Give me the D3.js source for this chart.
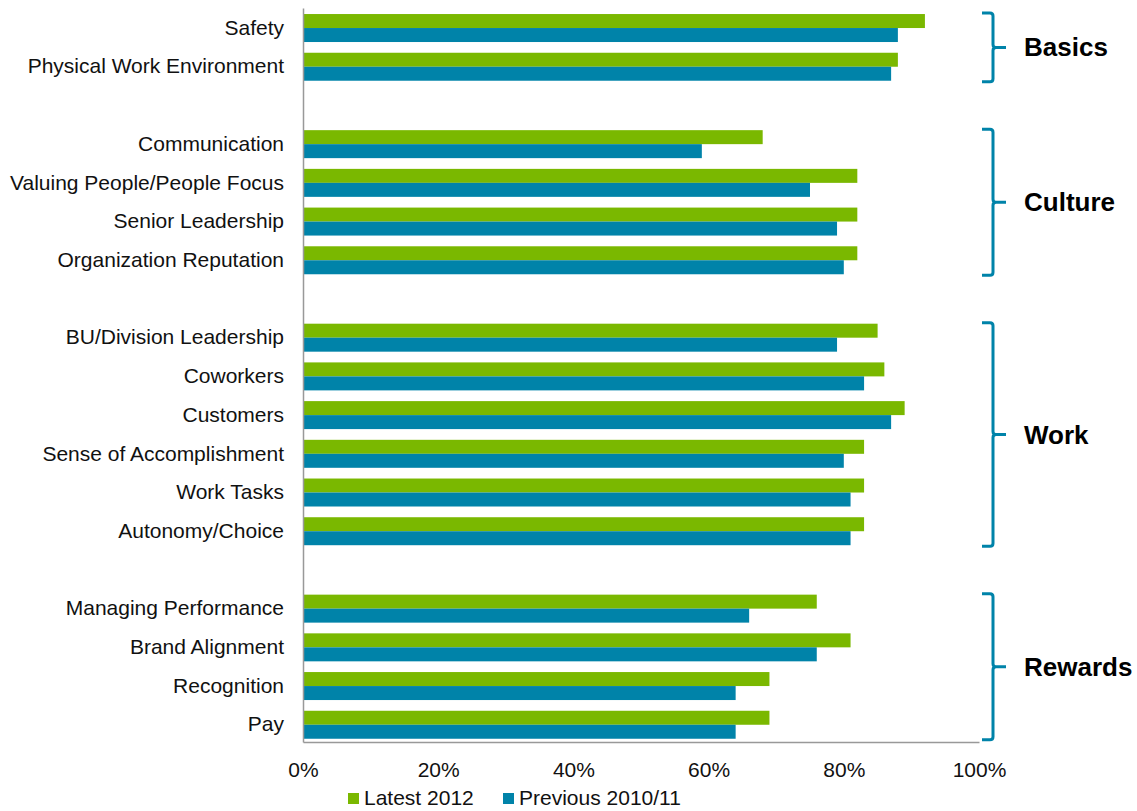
<!DOCTYPE html>
<html>
<head>
<meta charset="utf-8">
<script src="https://cdn.jsdelivr.net/npm/d3@7"></script>
<style>
  body { margin: 0; background: #fff; }
  text { font-family: "Liberation Sans", Arial, sans-serif; }
</style>
</head>
<body>
<script>
// Chart data (blank strings are the spacer rows between groups)
var categories = ["Safety", "Physical Work Environment", "",
  "Communication", "Valuing People/People Focus", "Senior Leadership", "Organization Reputation", "",
  "BU/Division Leadership", "Coworkers", "Customers", "Sense of Accomplishment", "Work Tasks", "Autonomy/Choice", "",
  "Managing Performance", "Brand Alignment", "Recognition", "Pay"];

var latest2012 = [0.92, 0.88, null,
  0.68, 0.82, 0.82, 0.82, null,
  0.85, 0.86, 0.89, 0.83, 0.83, 0.83, null,
  0.76, 0.81, 0.69, 0.69];

var previous2010 = [0.88, 0.87, null,
  0.59, 0.75, 0.79, 0.80, null,
  0.79, 0.83, 0.87, 0.80, 0.81, 0.81, null,
  0.66, 0.76, 0.64, 0.64];

var seriesNames = ["Latest 2012", "Previous 2010/11"];
var xTicks = [0, 0.2, 0.4, 0.6, 0.8, 1.0];

var groupNames = ["Basics", "Culture", "Work", "Rewards"];
var groupFirst = ["Safety", "Communication", "BU/Division Leadership", "Managing Performance"];
var groupLast = ["Physical Work Environment", "Organization Reputation", "Autonomy/Choice", "Pay"];

// Dimensions
var svgWidth = 1137;
var svgHeight = 811;
var margin = { top: 8, right: 158, bottom: 69, left: 303 };
var width = svgWidth - margin.left - margin.right;
var height = svgHeight - margin.top - margin.bottom;

var green = "#7ab800";
var blue = "#0083a9";

var svg = d3.select("body")
  .append("svg")
  .attr("width", svgWidth)
  .attr("height", svgHeight);

var chartGroup = svg.append("g")
  .attr("transform", `translate(${margin.left}, ${margin.top})`);

// Scales
var rows = d3.range(categories.length);

var yBand = d3.scaleBand()
  .domain(rows)
  .range([0, height])
  .paddingInner(0.277)
  .paddingOuter(0.12)
  .align(0.65);

var ySub = d3.scaleBand()
  .domain([0, 1])
  .range([0, yBand.bandwidth()]);

var xScale = d3.scaleLinear()
  .domain([0, 1])
  .range([0, width]);

// Bars
var seriesData = [latest2012, previous2010];
var seriesColors = [green, blue];

seriesData.forEach(function(values, s) {
  chartGroup.append("g").selectAll("rect")
    .data(rows.filter(i => values[i] != null))
    .enter()
    .append("rect")
    .attr("x", 0)
    .attr("y", i => yBand(i) + ySub(s))
    .attr("width", i => xScale(values[i]))
    .attr("height", ySub.bandwidth())
    .attr("fill", seriesColors[s]);
});

// Axes
var bottomAxis = d3.axisBottom(xScale)
  .tickValues(xTicks)
  .tickSize(0)
  .tickPadding(20)
  .tickFormat(d3.format(".0%"));

var leftAxis = d3.axisLeft(yBand)
  .tickSize(0)
  .tickPadding(19)
  .tickFormat(i => categories[i]);

var xAxisG = chartGroup.append("g")
  .attr("transform", `translate(0,${height})`)
  .call(bottomAxis);

var yAxisG = chartGroup.append("g")
  .call(leftAxis);

[xAxisG, yAxisG].forEach(function(g) {
  g.select(".domain").attr("stroke", "#999").attr("stroke-width", 1.5);
  g.selectAll("text")
    .attr("font-size", 21)
    .attr("font-family", "Liberation Sans, Arial, sans-serif")
    .attr("fill", "#111");
});

// Group brackets
var bx = width + 14;   // vertical line of the bracket
groupNames.forEach(function(name, k) {
  var i0 = categories.indexOf(groupFirst[k]);
  var i1 = categories.indexOf(groupLast[k]);
  var top = yBand(i0) - 1;
  var bottom = yBand(i1) + yBand.bandwidth() + 1;
  var mid = (top + bottom) / 2;

  var path = d3.path();
  path.moveTo(bx - 11, top);
  path.lineTo(bx - 3, top);
  path.quadraticCurveTo(bx, top, bx, top + 3);
  path.lineTo(bx, mid - 3);
  path.quadraticCurveTo(bx, mid, bx + 3, mid);
  path.lineTo(bx + 13, mid);
  path.moveTo(bx + 3, mid);
  path.quadraticCurveTo(bx, mid, bx, mid + 3);
  path.lineTo(bx, bottom - 3);
  path.quadraticCurveTo(bx, bottom, bx - 3, bottom);
  path.lineTo(bx - 11, bottom);

  chartGroup.append("path")
    .attr("d", path.toString())
    .attr("fill", "none")
    .attr("stroke", blue)
    .attr("stroke-width", 3);

  chartGroup.append("text")
    .attr("x", bx + 31)
    .attr("y", mid)
    .attr("dy", "0.35em")
    .attr("font-size", 26)
    .attr("font-weight", "bold")
    .attr("fill", "#000")
    .text(name);
});

// Legend
var legendX = [348, 503];
var legend = svg.append("g");
seriesNames.forEach(function(name, s) {
  legend.append("rect")
    .attr("x", legendX[s])
    .attr("y", 793)
    .attr("width", 11)
    .attr("height", 11)
    .attr("fill", seriesColors[s]);
  legend.append("text")
    .attr("x", legendX[s] + 16)
    .attr("y", 805)
    .attr("font-size", 21)
    .attr("fill", "#111")
    .text(name);
});
</script>
</body>
</html>
